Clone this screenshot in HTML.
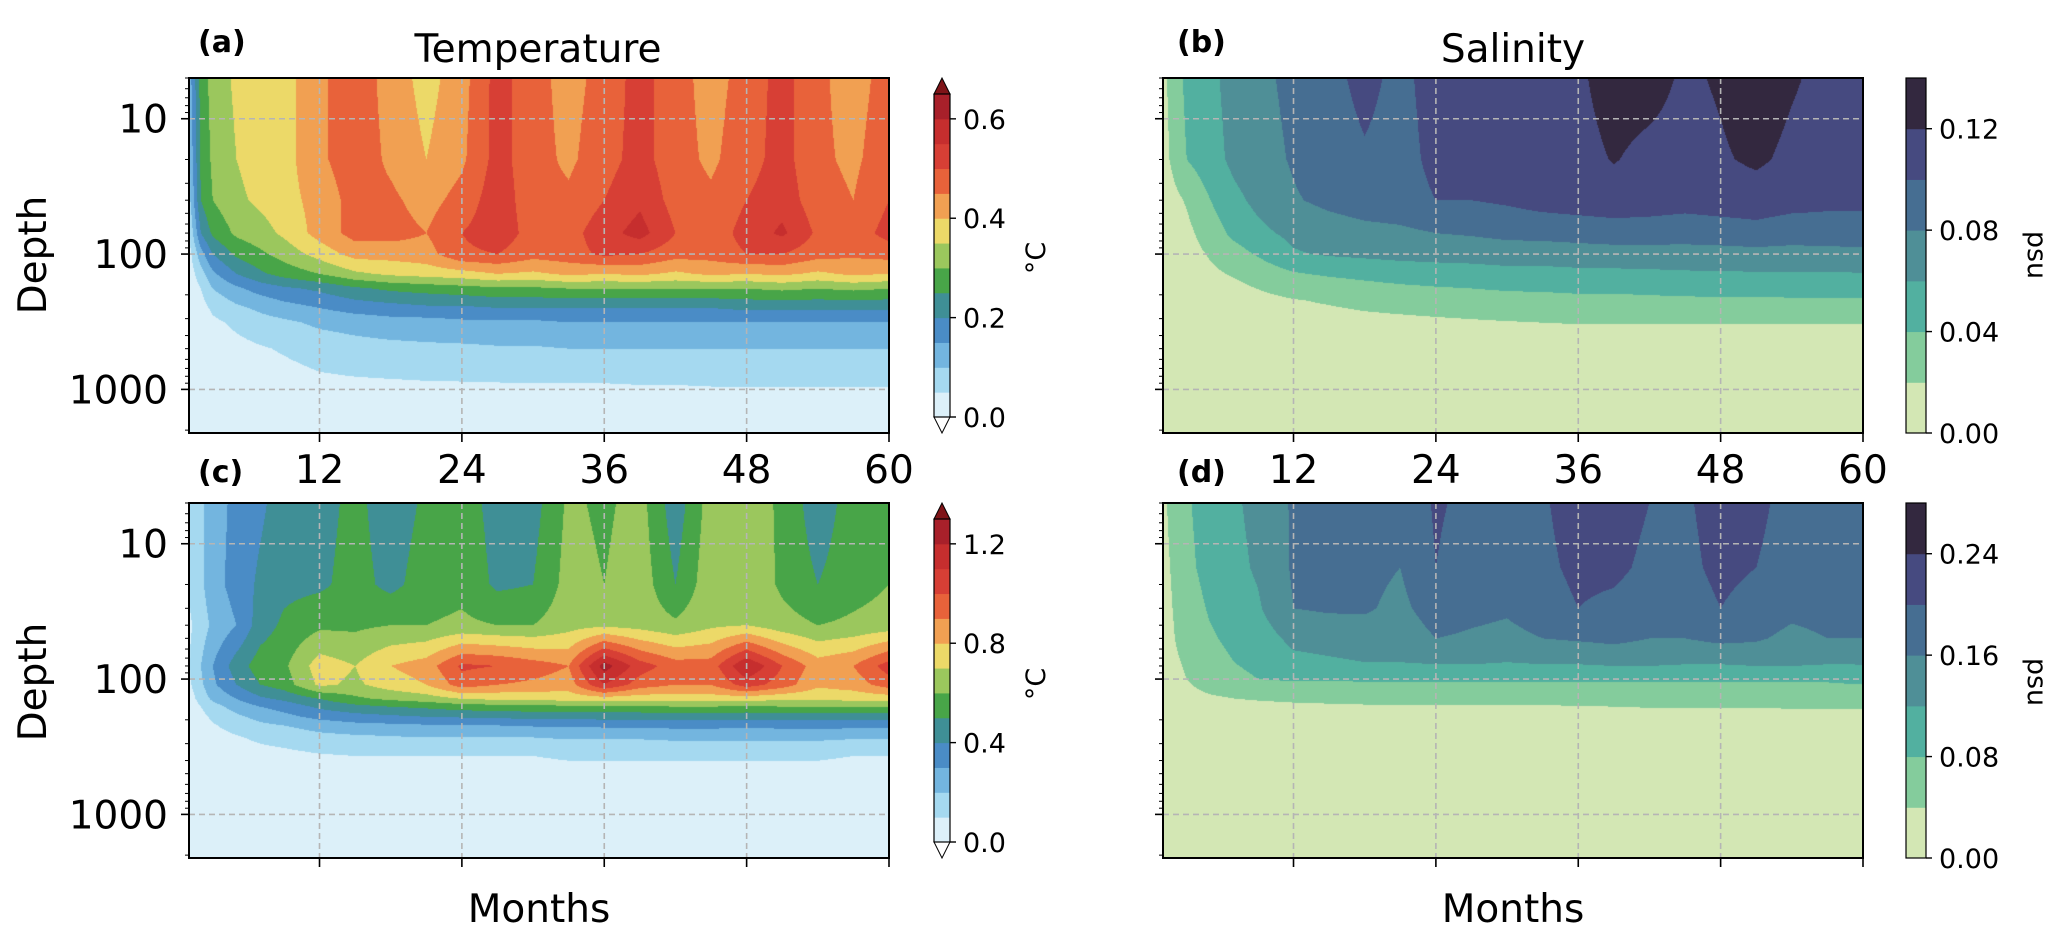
<!DOCTYPE html>
<html><head><meta charset="utf-8"><title>Temperature and salinity</title>
<style>
html,body{margin:0;padding:0;background:#fff;}
#page{position:relative;width:2067px;height:940px;overflow:hidden;background:#fff;font-family:"DejaVu Sans","Liberation Sans",sans-serif;}
canvas{position:absolute;}
#ov{position:absolute;left:0;top:0;}
</style></head>
<body>
<div id="page">
<canvas id="cv-a" width="700" height="355" style="left:189px;top:78px"></canvas>
<canvas id="cv-b" width="700" height="355" style="left:1163px;top:78px"></canvas>
<canvas id="cv-c" width="700" height="355" style="left:189px;top:503px"></canvas>
<canvas id="cv-d" width="700" height="355" style="left:1163px;top:503px"></canvas>
<svg id="ov" width="2067" height="940" font-family="DejaVu Sans, Liberation Sans, sans-serif">
<text x="198" y="52" font-size="30" font-weight="bold">(a)</text>
<text x="538" y="62" font-size="39" text-anchor="middle">Temperature</text>
<text x="1177" y="52" font-size="30" font-weight="bold">(b)</text>
<text x="1513" y="62" font-size="39" text-anchor="middle">Salinity</text>
<text x="198" y="482" font-size="30" font-weight="bold">(c)</text>
<text x="1177" y="482" font-size="30" font-weight="bold">(d)</text>
<text x="539" y="922" font-size="39" text-anchor="middle">Months</text>
<text x="1513" y="922" font-size="39" text-anchor="middle">Months</text>
<text transform="translate(46,255) rotate(-90)" font-size="39" text-anchor="middle">Depth</text>
<text transform="translate(46,682) rotate(-90)" font-size="39" text-anchor="middle">Depth</text>
<text transform="translate(1045,258) rotate(-90)" font-size="27" text-anchor="middle">°C</text>
<text transform="translate(1045,684) rotate(-90)" font-size="27" text-anchor="middle">°C</text>
<text transform="translate(2028,255) rotate(90)" font-size="27" text-anchor="middle">psu</text>
<text transform="translate(2028,682) rotate(90)" font-size="27" text-anchor="middle">psu</text>
</svg>
</div>
<script>
// ---------- data ----------
const months = [1,2,3,5,7,9,12,15,18,21,24,27,30,33,36,39,42,45,48,51,54,57,60];
const xTicks = [12,24,36,48,60];
const yTicks = [10,100,1000];

const depthsA = [5,20,40,70,100,140,180,250,320,500,900,2100];
const tempA = [
 [.12,.27,.32,.36,.38,.38,.44,.48,.43,.38,.43,.52,.47,.43,.47,.52,.47,.43,.47,.52,.46,.43,.47],
 [.10,.26,.31,.35,.37,.38,.44,.48,.44,.40,.44,.52,.47,.44,.48,.52,.47,.44,.48,.52,.46,.44,.48],
 [.08,.25,.30,.34,.36,.38,.42,.47,.46,.43,.47,.53,.47,.46,.50,.54,.48,.46,.50,.53,.47,.45,.50],
 [.05,.20,.26,.31,.33,.36,.42,.47,.47,.45,.50,.53,.48,.48,.53,.57,.50,.47,.52,.56,.49,.47,.52],
 [.03,.13,.20,.26,.29,.32,.37,.42,.42,.43,.49,.50,.47,.48,.51,.50,.47,.47,.50,.50,.47,.46,.47],
 [.02,.08,.14,.20,.24,.27,.30,.34,.36,.37,.38,.40,.39,.41,.40,.41,.39,.41,.40,.41,.39,.41,.40],
 [.01,.05,.10,.14,.17,.19,.21,.24,.26,.27,.28,.29,.29,.30,.30,.30,.30,.30,.30,.31,.30,.31,.30],
 [0,.03,.06,.09,.11,.13,.15,.17,.18,.19,.19,.20,.20,.20,.20,.20,.20,.20,.21,.21,.21,.21,.21],
 [0,.02,.04,.06,.08,.09,.11,.12,.13,.13,.14,.14,.14,.15,.15,.15,.15,.15,.15,.15,.15,.15,.15],
 [0,.01,.02,.035,.045,.055,.07,.08,.085,.09,.09,.095,.095,.10,.10,.10,.10,.10,.10,.10,.10,.10,.10],
 [0,0,.01,.02,.025,.03,.04,.043,.045,.047,.048,.049,.05,.05,.05,.051,.051,.052,.052,.052,.052,.052,.052],
 [0,0,0,0,.005,.01,.015,.018,.02,.02,.02,.022,.022,.022,.022,.022,.022,.022,.022,.022,.022,.022,.022]
];

const depthsB = [5,20,40,70,100,150,220,330,600,2100];
const salB = [
 [.015,.03,.045,.055,.068,.075,.085,.095,.105,.095,.108,.112,.113,.115,.117,.128,.127,.117,.122,.13,.122,.115,.115],
 [.012,.027,.04,.052,.065,.072,.082,.092,.098,.093,.105,.109,.110,.112,.114,.121,.115,.113,.118,.123,.116,.112,.112],
 [.005,.015,.022,.04,.055,.065,.078,.085,.09,.092,.10,.10,.103,.108,.11,.112,.11,.108,.11,.112,.108,.105,.105],
 [.003,.01,.015,.03,.045,.055,.065,.07,.074,.076,.08,.082,.085,.086,.088,.09,.09,.088,.09,.092,.088,.09,.09],
 [.002,.007,.012,.022,.032,.042,.058,.062,.064,.066,.067,.068,.07,.07,.071,.072,.072,.073,.073,.074,.074,.074,.075],
 [.001,.004,.008,.015,.02,.025,.034,.039,.042,.045,.047,.048,.05,.05,.052,.052,.053,.054,.055,.055,.055,.055,.056],
 [0,.002,.004,.009,.012,.015,.019,.022,.025,.027,.029,.031,.033,.034,.035,.035,.036,.037,.037,.037,.038,.038,.038],
 [0,.001,.002,.004,.006,.008,.01,.012,.014,.015,.016,.017,.018,.019,.02,.02,.02,.02,.02,.02,.02,.02,.02],
 [0,0,.001,.002,.003,.004,.005,.006,.007,.007,.008,.008,.009,.009,.01,.01,.01,.01,.01,.01,.01,.01,.01],
 [0,0,0,0,0,0,0,0,0,0,0,0,0,0,0,0,0,0,0,0,0,0,0]
];

const depthsC = [5,20,40,80,110,140,160,190,220,270,370,600,2100];
const tempC = [
 [.12,.18,.25,.33,.38,.45,.46,.53,.44,.52,.55,.46,.46,.62,.58,.64,.44,.65,.66,.58,.44,.55,.58],
 [.12,.18,.26,.34,.42,.47,.48,.54,.47,.55,.57,.48,.50,.64,.60,.66,.50,.67,.68,.58,.50,.56,.60],
 [.08,.15,.22,.30,.45,.52,.58,.58,.60,.60,.62,.60,.60,.66,.68,.66,.62,.68,.70,.64,.60,.62,.64],
 [.10,.20,.30,.45,.55,.58,.75,.70,.80,.85,1.02,1.0,.95,.90,1.25,1.05,.95,.95,1.2,1.0,.85,.90,1.05],
 [.08,.18,.28,.40,.50,.55,.72,.68,.75,.80,.95,.90,.88,.85,1.1,.95,.90,.90,1.05,.95,.82,.85,.95],
 [.05,.14,.22,.30,.38,.42,.50,.58,.62,.65,.70,.72,.72,.74,.75,.74,.74,.75,.74,.72,.72,.73,.74],
 [.03,.10,.16,.24,.30,.34,.42,.47,.50,.52,.55,.56,.57,.58,.58,.58,.60,.60,.58,.60,.60,.60,.60],
 [.02,.07,.12,.18,.23,.27,.33,.36,.38,.40,.41,.42,.43,.43,.44,.44,.45,.45,.44,.45,.45,.45,.45],
 [.01,.05,.09,.14,.18,.20,.24,.27,.28,.29,.30,.30,.31,.31,.32,.32,.33,.33,.32,.33,.33,.33,.32],
 [0,.03,.06,.09,.12,.14,.17,.18,.19,.20,.20,.20,.20,.21,.21,.21,.22,.22,.22,.22,.22,.21,.21],
 [0,.015,.03,.05,.06,.07,.09,.10,.10,.10,.10,.10,.10,.11,.11,.11,.11,.11,.11,.11,.11,.10,.10],
 [0,.005,.01,.02,.03,.035,.04,.045,.045,.05,.05,.05,.05,.05,.05,.05,.05,.05,.05,.05,.05,.05,.05],
 [0,0,0,0,0,0,0,0,0,0,0,0,0,0,0,0,0,0,0,0,0,0,0]
];

const depthsD = [5,15,30,50,75,100,130,160,250,2100];
const salD = [
 [.03,.06,.075,.10,.115,.13,.165,.18,.175,.17,.205,.19,.185,.195,.22,.22,.20,.195,.215,.21,.185,.185,.20],
 [.025,.05,.07,.095,.11,.125,.165,.175,.17,.16,.20,.18,.175,.19,.21,.21,.19,.19,.21,.20,.18,.18,.19],
 [.02,.045,.06,.085,.10,.115,.16,.165,.165,.15,.18,.17,.165,.18,.20,.19,.175,.18,.20,.185,.17,.175,.175],
 [.015,.04,.055,.075,.09,.10,.13,.135,.14,.135,.16,.155,.15,.16,.165,.17,.16,.16,.17,.165,.15,.16,.16],
 [.01,.035,.045,.065,.08,.09,.11,.115,.12,.12,.125,.125,.12,.125,.125,.13,.13,.125,.125,.13,.13,.125,.125],
 [.005,.03,.04,.06,.07,.08,.085,.085,.085,.085,.085,.085,.085,.085,.085,.085,.085,.085,.085,.085,.085,.085,.09],
 [.002,.02,.03,.04,.045,.048,.05,.052,.054,.055,.056,.057,.058,.058,.059,.06,.06,.06,.062,.062,.062,.062,.062],
 [0,.01,.02,.025,.03,.032,.035,.036,.037,.038,.038,.038,.038,.038,.038,.04,.041,.041,.041,.041,.042,.042,.042],
 [0,.005,.008,.01,.012,.014,.015,.016,.016,.016,.017,.017,.017,.017,.017,.017,.017,.017,.017,.017,.017,.017,.017],
 [0,0,0,0,0,0,0,0,0,0,0,0,0,0,0,0,0,0,0,0,0,0,0]
];

const tempColors = ['#dcf0f9','#a5d9f0','#73b5df','#4a8cc6','#3f8f96','#48a548','#9bc75d','#ecd968','#f1a052','#e8623a','#d73f35','#c62e2e','#a8202a'];
const salColors = ['#d3e7b4','#84cc9c','#52b0a0','#4f8f97','#466e92','#464a80','#33283f'];
const tickA = [0,0.2,0.4,0.6];
const tickB = [0,0.04,0.08,0.12];
const tickC = [0,0.4,0.8,1.2];
const tickD = [0,0.08,0.16,0.24];

// ---------- layout ----------
const DMIN = 5, DMAX = 2100, M0 = 1, M1 = 60;
const panels = [
 {id:'a', x0:189, y0:78, depths:depthsA, rows:tempA, step:0.05, colors:tempColors, over:'#7f1418', cbx:934, cbw:16, ext:true, ticks:tickA, dec:1, xlab:true, ylab:true},
 {id:'b', x0:1163, y0:78, depths:depthsB, rows:salB, step:0.02, colors:salColors, over:'#33283f', cbx:1906, cbw:20, ext:false, ticks:tickB, dec:2, xlab:true, ylab:false},
 {id:'c', x0:189, y0:503, depths:depthsC, rows:tempC, step:0.1, colors:tempColors, over:'#7f1418', cbx:934, cbw:16, ext:true, ticks:tickC, dec:1, xlab:false, ylab:true},
 {id:'d', x0:1163, y0:503, depths:depthsD, rows:salD, step:0.04, colors:salColors, over:'#33283f', cbx:1906, cbw:20, ext:false, ticks:tickD, dec:2, xlab:false, ylab:false}
];
const W = 700, H = 355;
function xScale(p, m){ return p.x0 + (m - M0) / (M1 - M0) * W; }
function yScale(p, d){ return p.y0 + (Math.log10(d) - Math.log10(DMIN)) / (Math.log10(DMAX) - Math.log10(DMIN)) * H; }

function hex(c){ return [parseInt(c.substr(1,2),16),parseInt(c.substr(3,2),16),parseInt(c.substr(5,2),16)]; }
function locate(arr, v){ let i=0; while(i<arr.length-2 && v>arr[i+1]) i++; let t=(v-arr[i])/(arr[i+1]-arr[i]); return [i, Math.max(0,Math.min(1,t))]; }

function field(p, m, d){
  const [i, tx] = locate(months, m);
  const ld = p.depths.map(Math.log10);
  const [j, ty] = locate(ld, Math.log10(d));
  const r0 = p.rows[j], r1 = p.rows[j+1];
  const a = r0[i]*(1-tx) + r0[i+1]*tx;
  const b = r1[i]*(1-tx) + r1[i+1]*tx;
  return a*(1-ty) + b*ty;
}

// ---------- draw contour fills ----------
panels.forEach(p => {
  const cv = document.getElementById('cv-' + p.id);
  const ctx = cv.getContext('2d');
  const img = ctx.createImageData(W, H);
  const cols = p.colors.map(hex), over = hex(p.over);
  const n = p.colors.length;
  for (let py = 0; py < H; py++) {
    const d = Math.pow(10, Math.log10(DMIN) + (py + 0.5) / H * (Math.log10(DMAX) - Math.log10(DMIN)));
    for (let px = 0; px < W; px++) {
      const m = M0 + (px + 0.5) / W * (M1 - M0);
      const v = field(p, m, d);
      let k = Math.floor(v / p.step + 1e-9);
      let c = k >= n ? over : cols[Math.max(0, k)];
      const o = (py * W + px) * 4;
      img.data[o] = c[0]; img.data[o+1] = c[1]; img.data[o+2] = c[2]; img.data[o+3] = 255;
    }
  }
  ctx.putImageData(img, 0, 0);
});

// ---------- overlay: grid, axes, colorbars ----------
const NS = 'http://www.w3.org/2000/svg';
const ov = document.getElementById('ov');
function mk(tag, attrs){ const e = document.createElementNS(NS, tag); for (const k in attrs) e.setAttribute(k, attrs[k]); ov.appendChild(e); return e; }

panels.forEach(p => {
  const x1 = p.x0 + W, y1 = p.y0 + H;
  xTicks.slice(0, 4).forEach(m => {
    const g = mk('line', {x1:xScale(p,m), x2:xScale(p,m), y1:p.y0, y2:y1, stroke:'#b5b5b5', 'stroke-width':1.6, 'stroke-dasharray':'6,4'});
    
    
  });
  yTicks.forEach(d => {
    const g = mk('line', {x1:p.x0, x2:x1, y1:yScale(p,d), y2:yScale(p,d), stroke:'#b5b5b5', 'stroke-width':1.6, 'stroke-dasharray':'6,4'});
    
    
  });
  const fr = mk('rect', {x:p.x0, y:p.y0, width:W, height:H, fill:'none', stroke:'#000', 'stroke-width':2});
  
  
  xTicks.forEach(m => {
    const t = mk('line', {x1:xScale(p,m), x2:xScale(p,m), y1:y1, y2:y1+9, stroke:'#000', 'stroke-width':1.6});
    
    
    if (p.xlab) {
      const l = mk('text', {x:xScale(p,m), y:483, 'font-size':39, 'text-anchor':'middle'});
      l.textContent = String(m);
      
      
    }
  });
  for (let e = 0; e <= 3; e++) {
    for (let k = 1; k <= 9; k++) {
      const d = k * Math.pow(10, e);
      if (d < DMIN || d > DMAX) continue;
      const major = k === 1;
      const t = mk('line', {x1:p.x0 - (major ? 8 : 4), x2:p.x0, y1:yScale(p,d), y2:yScale(p,d), stroke:'#000', 'stroke-width':major ? 1.6 : 1});
      
      
    }
  }
  if (p.ylab) {
    yTicks.forEach(d => {
      const l = mk('text', {x:168, y:yScale(p,d) + 14, 'font-size':39, 'text-anchor':'end'});
      l.textContent = String(d);
      
      
    });
  }
  // colorbar
  const n = p.colors.length;
  const off = p.ext ? 16 : 0;
  const cy0 = p.y0 + off, cy1 = y1 - off;
  const vmax = n * p.step;
  const cbY = v => cy1 - v / vmax * (cy1 - cy0);
  p.colors.forEach((c, i) => {
    const r = mk('rect', {x:p.cbx, y:cbY((i+1)*p.step), width:p.cbw, height:cbY(i*p.step) - cbY((i+1)*p.step) + 0.5, fill:c});
    
    
  });
  if (p.ext) {
    const tu = mk('polygon', {points:`${p.cbx},${cy0} ${p.cbx+p.cbw},${cy0} ${p.cbx+p.cbw/2},${p.y0}`, fill:p.over, stroke:'#000', 'stroke-width':1});
    
    
    const td = mk('polygon', {points:`${p.cbx},${cy1} ${p.cbx+p.cbw},${cy1} ${p.cbx+p.cbw/2},${y1}`, fill:'#ffffff', stroke:'#000', 'stroke-width':1});
    
    
  }
  const cf = mk('rect', {x:p.cbx, y:cy0, width:p.cbw, height:cy1 - cy0, fill:'none', stroke:'#000', 'stroke-width':1.2});
  
  
  p.ticks.forEach(v => {
    const t = mk('line', {x1:p.cbx + p.cbw, x2:p.cbx + p.cbw + 6, y1:cbY(v), y2:cbY(v), stroke:'#000', 'stroke-width':1.4});
    
    
    const l = mk('text', {x:p.cbx + p.cbw + 13, y:cbY(v) + 10, 'font-size':27});
    l.textContent = v.toFixed(p.dec);
    
    
  });
});
</script>
</body></html>
